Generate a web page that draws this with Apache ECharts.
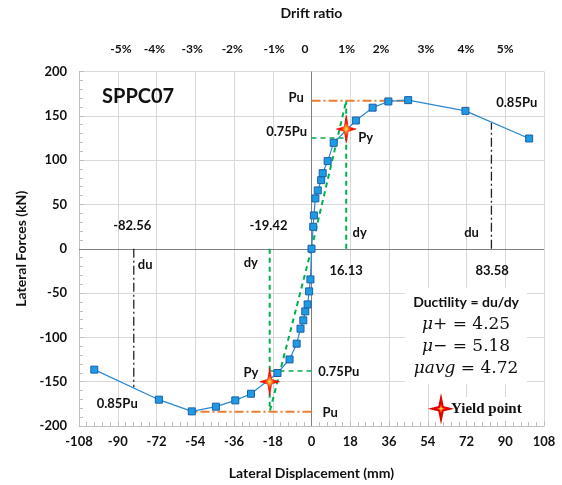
<!DOCTYPE html>
<html>
<head>
<meta charset="utf-8">
<script src="https://cdn.jsdelivr.net/npm/echarts@6/dist/echarts.min.js"></script>
<style>
html, body { margin: 0; padding: 0; background: #fff; }
#chart { width: 562px; height: 485px; }
</style>
</head>
<body>
<div id="chart"></div>
<script>
// backbone curve (mm / kN)
var dispVals = [-100.9, -70.9, -55.6, -44.4, -35.4, -28.1, -15.8, -10.2, -6.9, -5.1, -3.8, -2.9, -1.8, -1.1, -0.5,
    0, 0.8, 1.1, 1.8, 2.9, 4.5, 5.2, 7.5, 10.3, 20.6, 28.4, 35.7, 44.9, 71.5, 101.1];
var forceVals = [-136.4, -170.3, -183.5, -178.2, -171.1, -163.6, -140.2, -124.9, -107.1, -90.2, -80.8, -70.7, -62.8, -48.1, -34.6,
    0, 24.8, 37.6, 56.8, 65.8, 77.4, 85.3, 98.9, 119.5, 144.7, 159.2, 166.2, 167.7, 155.6, 124.4];

// yield points
var yieldX = [16.13, -19.42];
var yieldY = [135, -150];

// characteristic values (positive, negative)
var puVals = [167, -184];
var pu75Vals = [125, -138];
var pu85Vals = [142, -156.4];
var dyVals = [16.13, -19.42];
var duVals = [83.58, -82.56];
var peakX = [44.9, -55.6];

// ticks
var xTicks = [-108, 108, 18];
var yTicks = [-200, 200, 50];
var driftPos = [-88.5, -73, -55.4, -36.8, -17.4, -3, 16.3, 32.3, 53.1, 71.7, 90];
var driftLabels = ['-5%', '-4%', '-3%', '-2%', '-1%', '0', '1%', '2%', '3%', '4%', '5%'];

var font = 'Lato';
var txt = '#111';

var curve = dispVals.map(function (d, i) { return [d, forceVals[i]]; });
var stars = yieldX.map(function (d, i) { return [d, yieldY[i]]; });

function seg(name, pts, color, type, width) {
    return {
        name: name, type: 'line', data: pts, symbol: 'none', silent: true,
        lineStyle: { color: color, type: type, width: width }, z: 3
    };
}

var green = '#00b050', orange = '#ed7d31';
var dashDot = [9, 3, 2, 3];
var lineSeries = [];
[0, 1].forEach(function (k) {
    lineSeries.push(seg('sec' + k, [[0, 0], [dyVals[k], puVals[k]]], green, [5, 4], 2));
    lineSeries.push(seg('dyv' + k, [[dyVals[k], 0], [dyVals[k], puVals[k]]], green, [5, 4], 2));
    lineSeries.push(seg('p75' + k, [[0, pu75Vals[k]], [dyVals[k], pu75Vals[k]]], green, [5, 4], 1.5));
    lineSeries.push(seg('pu' + k, [[0, puVals[k]], [peakX[k], puVals[k]]], orange, dashDot, 2));
    lineSeries.push(seg('du' + k, [[duVals[k], 0], [duVals[k], pu85Vals[k]]], '#222', dashDot, 1.3));
});

// annotation texts [x, y, text, align, size]
var notes = [
    [-97.3, 171.7, 'SPPC07', 'left', 20],
    [-3.6, 170.8, 'Pu', 'right', 13],
    [-2, 131.4, '0.75Pu', 'right', 13],
    [21.7, 125.2, 'Py', 'left', 13],
    [85.8, 164.2, '0.85Pu', 'left', 13],
    [19.1, 18.3, 'dy', 'left', 13],
    [70.9, 18.3, 'du', 'left', 13],
    [-83.3, 25.4, '-82.56', 'center', 13],
    [-20, 25.4, '-19.42', 'center', 13],
    [16.1, -25.2, '16.13', 'center', 13],
    [83.9, -25.2, '83.58', 'center', 13],
    [-80.7, -17.7, 'du', 'left', 13],
    [-24.9, -15.4, 'dy', 'right', 13],
    [-24.7, -140.3, 'Py', 'right', 13],
    [3.1, -138.6, '0.75Pu', 'left', 13],
    [5.1, -185.3, 'Pu', 'left', 13],
    [-99.8, -174.8, '0.85Pu', 'left', 13]
];
var noteData = notes.map(function (n) {
    return {
        value: [n[0], n[1]],
        label: { formatter: n[2], align: n[3], fontSize: n[4] }
    };
});

var starPath = 'path://M0,-12 L2,-2 L10,0 L2,2 L0,12 L-2,2 L-10,0 L-2,-2 Z';
var starFill = {
    type: 'radial', x: 0.5, y: 0.5, r: 0.5,
    colorStops: [{ offset: 0, color: '#ffe066' }, { offset: 0.18, color: '#ff9020' }, { offset: 0.45, color: '#ff1a00' }, { offset: 1, color: '#ff0000' }]
};

var chart = echarts.init(document.getElementById('chart'));
var option = {
    animation: false,
    grid: { left: 79, right: 18, top: 71.5, bottom: 58 },
    legend: {
        data: ['Yield point'],
        left: 431, top: 397,
        icon: starPath,
        itemWidth: 18, itemHeight: 26, itemGap: 0,
        padding: 0,
        backgroundColor: '#fff',
        textStyle: { fontFamily: 'Liberation Serif', fontWeight: 'bold', fontSize: 15, color: '#111', padding: [0, 0, 0, -4] }
    },
    xAxis: [{
        type: 'value', position: 'bottom',
        min: xTicks[0], max: xTicks[1], interval: xTicks[2],
        axisLine: { show: true, onZero: false, lineStyle: { color: '#bfbfbf' } },
        axisTick: { show: true, inside: true, length: 5, lineStyle: { color: '#bfbfbf' } },
        minorTick: { show: true, splitNumber: 5, length: 4, lineStyle: { color: '#bfbfbf' } },
        splitLine: { lineStyle: { color: '#d9d9d9' } },
        axisLabel: { fontFamily: font, fontWeight: 'bold', fontSize: 13, color: txt, margin: 9 },
        name: 'Lateral Displacement (mm)', nameLocation: 'middle', nameGap: 40,
        nameTextStyle: { fontFamily: font, fontWeight: 'bold', fontSize: 14, color: txt }
    }, {
        type: 'value', position: 'top',
        min: xTicks[0], max: xTicks[1],
        axisLine: { show: false }, axisTick: { show: false }, splitLine: { show: false },
        axisLabel: {
            customValues: driftPos,
            formatter: function (v) {
                var i = driftPos.indexOf(v);
                return i >= 0 ? driftLabels[i] : '';
            },
            fontFamily: font, fontWeight: 'bold', fontSize: 12, color: txt, margin: 16
        },
        name: 'Drift ratio', nameLocation: 'middle', nameGap: 51,
        nameTextStyle: { fontFamily: font, fontWeight: 'bold', fontSize: 14, color: txt }
    }],
    yAxis: {
        type: 'value',
        min: yTicks[0], max: yTicks[1], interval: yTicks[2],
        axisLine: { show: true, onZero: false, lineStyle: { color: '#bfbfbf' } },
        axisTick: { show: true, inside: true, length: 5, lineStyle: { color: '#bfbfbf' } },
        minorTick: { show: true, splitNumber: 5, length: 4, lineStyle: { color: '#bfbfbf' } },
        splitLine: { lineStyle: { color: '#d9d9d9' } },
        axisLabel: { fontFamily: font, fontWeight: 'bold', fontSize: 13, color: txt, margin: 12 },
        name: 'Lateral Forces (kN)', nameLocation: 'middle', nameGap: 49,
        nameTextStyle: { fontFamily: font, fontWeight: 'bold', fontSize: 14, color: txt }
    },
    series: lineSeries.concat([{
        name: 'curve', type: 'line', data: curve,
        symbol: 'rect', symbolSize: 7,
        lineStyle: { color: '#2a88d0', width: 1.2 },
        itemStyle: { color: '#1e9be6', borderColor: '#1c5fa6', borderWidth: 1 },
        z: 4,
        markLine: {
            silent: true, symbol: 'none', label: { show: false },
            lineStyle: { color: '#7f7f7f', type: 'solid', width: 1 },
            data: [{ yAxis: 0 }, { xAxis: 0 }],
            z: 1
        }
    }, {
        name: 'Yield point', type: 'scatter', data: stars,
        symbol: starPath, symbolSize: [20, 28],
        itemStyle: { color: starFill, borderColor: '#e00000', borderWidth: 0.5, opacity: 1 },
        z: 6
    }, {
        name: 'notes', type: 'scatter', data: noteData,
        symbolSize: 0, silent: true, z: 7,
        itemStyle: { opacity: 1 },
        label: {
            show: true, position: 'inside', verticalAlign: 'middle',
            fontFamily: font, fontWeight: 'bold', color: txt
        }
    }, {
        name: 'ductility', type: 'scatter', data: [[71.8, -98.1]],
        symbolSize: 0, silent: true, z: 7,
        itemStyle: { opacity: 1 },
        label: {
            show: true, position: 'inside', align: 'center', verticalAlign: 'middle',
            backgroundColor: '#fff', padding: [4, 8],
            formatter: '{a|Ductility = du/dy}\n{i|μ}{n|+ = 4.25}\n{i|μ}{n|− = 5.18}\n{i|μavg}{n| = 4.72}',
            rich: {
                a: { fontFamily: font, fontWeight: 'bold', fontSize: 14, color: txt, lineHeight: 22 },
                i: { fontFamily: 'DejaVu Serif', fontStyle: 'italic', fontSize: 17, color: txt, lineHeight: 22 },
                n: { fontFamily: 'DejaVu Serif', fontSize: 17, color: txt, lineHeight: 22 }
            }
        }
    }])
};
chart.setOption(option);
</script>
</body>
</html>
